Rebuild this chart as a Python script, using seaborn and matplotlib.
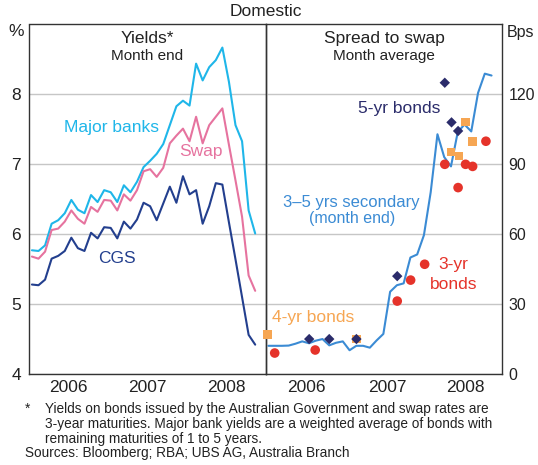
import numpy as np
import matplotlib
matplotlib.use('Agg')
import matplotlib.pyplot as plt
import seaborn as sns

# Yields, month end (%), Jan 2006 - Nov 2008
major_banks = [5.77, 5.76, 5.84, 6.15, 6.20, 6.30, 6.49, 6.35, 6.30, 6.56, 6.46, 6.63,
               6.60, 6.46, 6.70, 6.60, 6.75, 6.96, 7.05, 7.15, 7.29, 7.56, 7.83, 7.91,
               7.84, 8.44, 8.20, 8.39, 8.49, 8.67, 8.18, 7.56, 7.33, 6.34, 6.01]
swap = [5.68, 5.65, 5.75, 6.06, 6.08, 6.18, 6.34, 6.22, 6.15, 6.39, 6.32, 6.49,
        6.48, 6.34, 6.57, 6.48, 6.63, 6.90, 6.93, 6.82, 6.95, 7.30, 7.41, 7.51,
        7.33, 7.68, 7.30, 7.56, 7.68, 7.80, 7.28, 6.77, 6.25, 5.41, 5.19]
cgs = [5.28, 5.27, 5.35, 5.65, 5.69, 5.76, 5.95, 5.80, 5.76, 6.02, 5.94, 6.10,
       6.09, 5.94, 6.18, 6.08, 6.21, 6.45, 6.40, 6.20, 6.44, 6.68, 6.45, 6.83,
       6.57, 6.63, 6.15, 6.40, 6.73, 6.71, 6.17, 5.64, 5.10, 4.56, 4.42]
months_left = 2006 + (np.arange(len(cgs)) + 0.4) / 12

# Spread to swap (bps)
secondary = [12.1, 12.1, 12.1, 12.2, 13.0, 14.0, 13.2, 14.3, 15.0, 12.3, 13.4, 14.0,
             10.2, 12.1, 12.1, 11.3, 14.4, 17.2, 35.3, 38.1, 38.9, 50.0, 51.3, 59.6,
             78.0, 102.9, 93.1, 89.1, 103.8, 107.1, 104.1, 120.6, 128.9, 128.1]
months_right = 2006 + (np.arange(len(secondary)) + 0.4) / 12

bonds5_t = [2006.536, 2006.783, 2007.118, 2007.621, 2008.207, 2008.290, 2008.371]
bonds5_v = [15, 15, 15, 42, 125, 108, 104.3]
bonds4_t = [2006.02, 2007.118, 2008.281, 2008.380, 2008.463, 2008.550]
bonds4_v = [17, 15, 95.3, 93.6, 108.1, 99.9]
bonds3_t = [2006.111, 2006.610, 2007.621, 2007.786, 2007.959, 2008.207, 2008.371,
            2008.463, 2008.550, 2008.714]
bonds3_v = [9.0, 10.3, 31.3, 40.3, 47.1, 90, 80, 90, 89.1, 99.9]

c_banks = '#1fb6e9'
c_swap = '#e6739f'
c_cgs = '#233f8e'
c_sec = '#3b8bd4'
c_5yr = '#2b2c6b'
c_4yr = '#f6a653'
c_3yr = '#e5332a'
txt = '#222222'

sns.set_theme(style='white')
plt.rcParams['font.family'] = ['Liberation Sans', 'DejaVu Sans']

W, H = 538, 465
fig = plt.figure(figsize=(W / 100, H / 100), dpi=100)
bottom = (H - 374) / H
height = (374 - 24.5) / H
ax1 = fig.add_axes([29.3 / W, bottom, (265.7 - 29.3) / W, height])
ax2 = fig.add_axes([265.7 / W, bottom, (502.3 - 265.7) / W, height])
ax2.set_facecolor('none')

sns.lineplot(x=months_left, y=major_banks, ax=ax1, color=c_banks, lw=1.5)
sns.lineplot(x=months_left, y=swap, ax=ax1, color=c_swap, lw=1.5)
sns.lineplot(x=months_left, y=cgs, ax=ax1, color=c_cgs, lw=1.5)

sns.lineplot(x=months_right, y=secondary, ax=ax2, color=c_sec, lw=1.5)
sns.scatterplot(x=bonds4_t, y=bonds4_v, ax=ax2, marker='s', s=38, color=c_4yr,
                edgecolor='none', zorder=3, clip_on=False)
sns.scatterplot(x=bonds3_t, y=bonds3_v, ax=ax2, marker='o', s=48, color=c_3yr,
                edgecolor='none', zorder=3)
sns.scatterplot(x=bonds5_t, y=bonds5_v, ax=ax2, marker='D', s=28, color=c_5yr,
                edgecolor='none', zorder=4)

ax1.set_xlim(2006, 2009)
ax1.set_ylim(4, 9)
ax2.set_xlim(2006, 2008 + 74 / 80.8)
ax2.set_ylim(0, 150)

for ax, centers in [(ax1, [2006.5, 2007.5, 2008.5]), (ax2, [2006.5, 2007.5, 2008 + 37 / 80.8])]:
    ax.set_xticks([2007, 2008])
    ax.set_xticklabels([])
    ax.set_xticks(centers, minor=True)
    ax.set_xticklabels(['2006', '2007', '2008'], minor=True)
    ax.tick_params(axis='x', which='major', direction='in', length=5.5, width=1, color='#333333')
    ax.tick_params(axis='x', which='minor', length=0, pad=4, labelsize=12.5, labelcolor=txt)
    ax.tick_params(axis='y', length=0, labelcolor=txt)
    ax.grid(axis='y', color='#c6c6c6', lw=1.0)
    ax.grid(axis='x', visible=False)
    for sp in ax.spines.values():
        sp.set_color('#333333')
        sp.set_linewidth(1.0)
        sp.set_visible(True)

ax1.set_yticks([4, 5, 6, 7, 8])
ax1.tick_params(axis='y', pad=6, labelsize=12.5)
ax2.set_yticks([0, 30, 60, 90, 120])
ax2.yaxis.tick_right()
ax2.tick_params(axis='y', pad=4.5, length=0, labelsize=11.5)

# panel titles
ax1.text(0.5, 0.96, 'Yields*', transform=ax1.transAxes, ha='center', va='center', fontsize=12.5, color=txt)
ax1.text(0.5, 0.91, 'Month end', transform=ax1.transAxes, ha='center', va='center', fontsize=11, color=txt)
ax2.text(0.5, 0.96, 'Spread to swap', transform=ax2.transAxes, ha='center', va='center', fontsize=12.5, color=txt)
ax2.text(0.5, 0.91, 'Month average', transform=ax2.transAxes, ha='center', va='center', fontsize=11, color=txt)

# series labels
ax1.text(2006.44, 7.53, 'Major banks', ha='left', va='center', fontsize=12.5, color=c_banks)
ax1.text(2008.18, 7.18, 'Swap', ha='center', va='center', fontsize=12.5, color=c_swap)
ax1.text(2007.11, 5.65, 'CGS', ha='center', va='center', fontsize=12.5, color=c_cgs)

ax2.text(2007.64, 113.8, '5-yr bonds', ha='center', va='center', fontsize=12.5, color=c_5yr)
ax2.text(2007.06, 73.5, '3–5 yrs secondary', ha='center', va='center', fontsize=12, color=c_sec)
ax2.text(2007.06, 66.6, '(month end)', ha='center', va='center', fontsize=11.5, color=c_sec)
ax2.text(2006.585, 24.4, '4-yr bonds', ha='center', va='center', fontsize=12.5, color=c_4yr)
ax2.text(2008.31, 47.1, '3-yr', ha='center', va='center', fontsize=12.5, color=c_3yr)
ax2.text(2008.32, 38.4, 'bonds', ha='center', va='center', fontsize=12.5, color=c_3yr)

# figure-level text
fig.text(265.7 / W, 1 - 12 / H, 'Domestic', ha='center', va='center', fontsize=12.5, color=txt)
fig.text(15.8 / W, 1 - 32 / H, '%', ha='center', va='center', fontsize=12.5, color=txt)
fig.text(507 / W, 1 - 32 / H, 'Bps', ha='left', va='center', fontsize=11.5, color=txt)

notes = ['Yields on bonds issued by the Australian Government and swap rates are',
         '3-year maturities. Major bank yields are a weighted average of bonds with',
         'remaining maturities of 1 to 5 years.']
ys = [408.5, 423.5, 438.5]
fig.text(25 / W, 1 - 409 / H, '*', ha='left', va='center', fontsize=9.8, color=txt)
for line, y in zip(notes, ys):
    fig.text(44.6 / W, 1 - y / H, line, ha='left', va='center', fontsize=9.8, color=txt)
fig.text(25 / W, 1 - 453 / H, 'Sources: Bloomberg; RBA; UBS AG, Australia Branch',
         ha='left', va='center', fontsize=9.8, color=txt)

fig.savefig('out.png', dpi=100)
